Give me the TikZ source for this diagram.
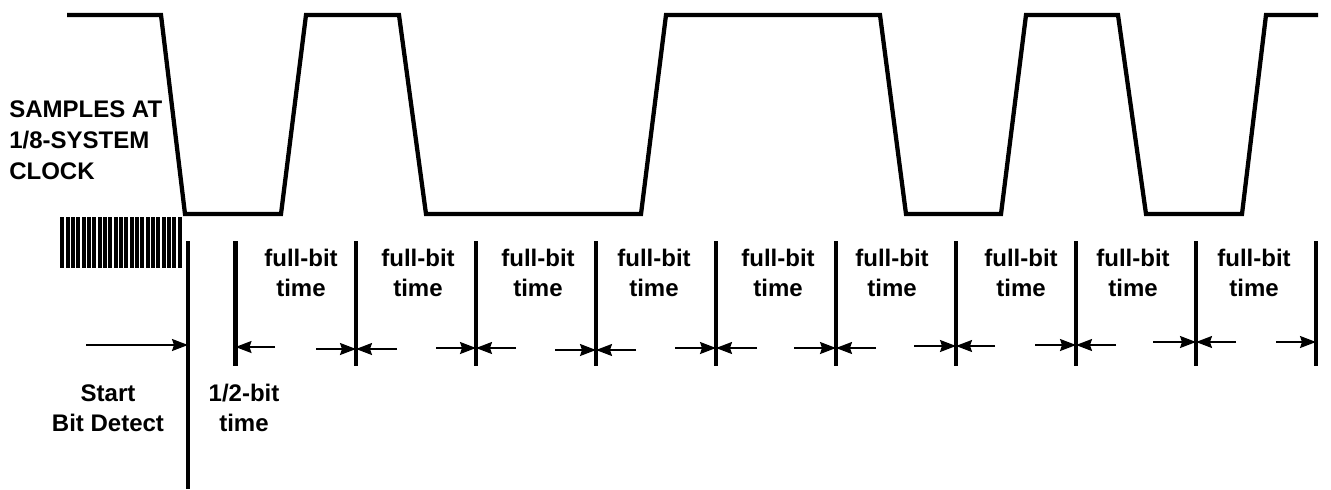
\documentclass[tikz,border=0pt]{standalone}
\usepackage{fontspec}
\setmainfont{Liberation Sans}
\usetikzlibrary{arrows.meta}

\begin{document}
\begin{tikzpicture}[x=0.75pt,y=-0.75pt,
  wave/.style={line width=3.2pt,line join=miter},
  tick/.style={line width=3.2pt},
  dim/.style={-{Stealth[length=12pt,width=9pt,inset=1.5pt]},line width=1.2pt},
  label node/.style={font=\fontsize{18}{22.5}\selectfont\bfseries,align=center,inner sep=0pt}]

  \useasboundingbox (0,0) rectangle (1331,489);

  \draw[wave] (67,15) -- (161,15) -- (185,214) -- (281,214) -- (306,15) -- (399,15)
    -- (426,214) -- (641,214) -- (666,15) -- (880,15) -- (906,214) -- (1001,214)
    -- (1026,15) -- (1118,15) -- (1146,214) -- (1242,214) -- (1266,15) -- (1318,15);

  \foreach \x in {0,...,22}
    \fill (60.3+5.33*\x,217) rectangle +(4,51);

  \node[label node,font=\fontsize{18}{23.25}\selectfont\bfseries,align=left,anchor=west] (samples) at (9,140) {SAMPLES AT\\1/8-SYSTEM\\CLOCK};

  % bit boundaries
  \coordinate (s0) at (188,241);  \coordinate (e0) at (188,489);
  \coordinate (s1) at (235.5,241); \coordinate (e1) at (235.5,366);
  \coordinate (s2) at (356,241);  \coordinate (e2) at (356,366);
  \coordinate (s3) at (476,241);  \coordinate (e3) at (476,366);
  \coordinate (s4) at (596,241);  \coordinate (e4) at (596,366);
  \coordinate (s5) at (716,241);  \coordinate (e5) at (716,366);
  \coordinate (s6) at (836,241);  \coordinate (e6) at (836,366);
  \coordinate (s7) at (956,241);  \coordinate (e7) at (956,366);
  \coordinate (s8) at (1076,241); \coordinate (e8) at (1076,366);
  \coordinate (s9) at (1196,241); \coordinate (e9) at (1196,366);
  \coordinate (s10) at (1316,241); \coordinate (e10) at (1316,366);

  \path[tick] (s0) edge (e0) (s1) edge (e1) (s2) edge (e2) (s3) edge (e3)
    (s4) edge (e4) (s5) edge (e5) (s6) edge (e6) (s7) edge (e7)
    (s8) edge (e8) (s9) edge (e9) (s10) edge (e10);

  \node[label node] (start) at (108,408) {Start\\Bit Detect};
  \node[label node] (half) at (244,408) {1/2-bit\\time};
  \node[label node] (f1) at (301,273) {full-bit\\time};
  \node[label node] (f2) at (418,273) {full-bit\\time};
  \node[label node] (f3) at (538,273) {full-bit\\time};
  \node[label node] (f4) at (654,273) {full-bit\\time};
  \node[label node] (f5) at (778,273) {full-bit\\time};
  \node[label node] (f6) at (892,273) {full-bit\\time};
  \node[label node] (f7) at (1021,273) {full-bit\\time};
  \node[label node] (f8) at (1133,273) {full-bit\\time};
  \node[label node] (f9) at (1254,273) {full-bit\\time};

  % free ends of the arrows
  \coordinate (a0) at (86,345);
  \coordinate (l1) at (275,347);  \coordinate (r1) at (316,349);
  \coordinate (l2) at (397,349);  \coordinate (r2) at (436,348);
  \coordinate (l3) at (516,348);  \coordinate (r3) at (555,350);
  \coordinate (l4) at (636,350);  \coordinate (r4) at (675,348);
  \coordinate (l5) at (757,348);  \coordinate (r5) at (794,348);
  \coordinate (l6) at (876,348);  \coordinate (r6) at (914,346);
  \coordinate (l7) at (995,346);  \coordinate (r7) at (1035,345);
  \coordinate (l8) at (1116,345); \coordinate (r8) at (1153,342);
  \coordinate (l9) at (1236,342); \coordinate (r9) at (1276,342);

  \path[dim]
    (a0) edge (a0 -| s0)
    (l1) edge (l1 -| s1)
    (r1) edge (r1 -| s2)
    (l2) edge (l2 -| s2)
    (r2) edge (r2 -| s3)
    (l3) edge (l3 -| s3)
    (r3) edge (r3 -| s4)
    (l4) edge (l4 -| s4)
    (r4) edge (r4 -| s5)
    (l5) edge (l5 -| s5)
    (r5) edge (r5 -| s6)
    (l6) edge (l6 -| s6)
    (r6) edge (r6 -| s7)
    (l7) edge (l7 -| s7)
    (r7) edge (r7 -| s8)
    (l8) edge (l8 -| s8)
    (r8) edge (r8 -| s9)
    (l9) edge (l9 -| s9)
    (r9) edge (r9 -| s10);
\end{tikzpicture}
\end{document}
